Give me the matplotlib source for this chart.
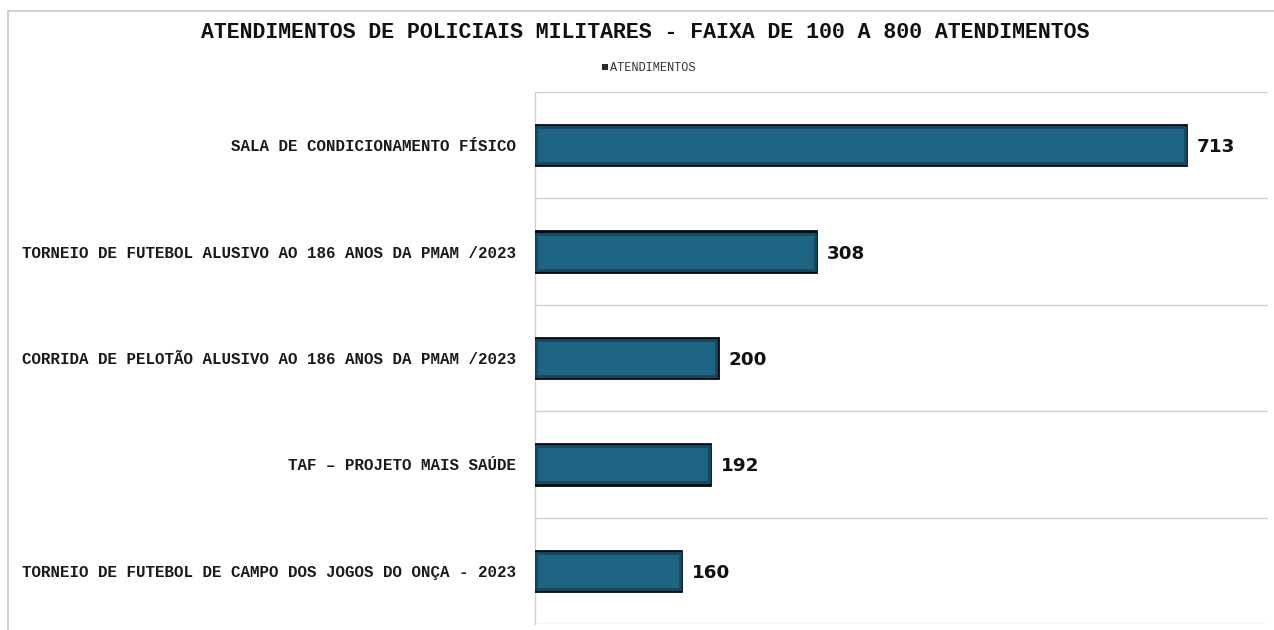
import matplotlib
matplotlib.use("Agg")
import matplotlib.pyplot as plt
from matplotlib.patches import Rectangle

categorias = [
    "SALA DE CONDICIONAMENTO FÍSICO",
    "TORNEIO DE FUTEBOL ALUSIVO AO 186 ANOS DA PMAM /2023",
    "CORRIDA DE PELOTÃO ALUSIVO AO 186 ANOS DA PMAM /2023",
    "TAF – PROJETO MAIS SAÚDE",
    "TORNEIO DE FUTEBOL DE CAMPO DOS JOGOS DO ONÇA - 2023",
]
atendimentos = [713, 308, 200, 192, 160]

cor_barra = "#1d6482"
mono = ["Liberation Mono", "DejaVu Sans Mono"]

fig = plt.figure(figsize=(12.74, 6.30), dpi=100)
ax = fig.add_axes([535 / 1274, 6 / 630, (1268 - 535) / 1274, (624 - 92) / 630])

y = list(range(len(categorias)))
ax.barh(y, atendimentos, height=0.38, color=cor_barra, edgecolor="#05080f",
        linewidth=2, zorder=3)
# sombra interna das barras
ax.barh(y, [v - 2.5 for v in atendimentos], left=1.25, height=0.34, color="none",
        edgecolor="#134a63", linewidth=2, zorder=4)

for yi, v in zip(y, atendimentos):
    ax.text(v + 12, yi, str(v), va="center_baseline", ha="left", fontsize=13.2,
            fontweight="bold", family="DejaVu Sans", color="#111111")

ax.set_xlim(0, 803)
ax.set_ylim(len(categorias) - 0.5, -0.5)
ax.set_yticks(y)
ax.set_yticklabels(categorias, family=mono, fontsize=11.45, fontweight="bold",
                   color="#1a1a1a")
ax.tick_params(axis="y", length=0, pad=14)
ax.set_xticks([])

# linhas entre categorias
for b in [i - 0.5 for i in range(len(categorias) + 1)]:
    ax.axhline(b, color="#d0d0d0", linewidth=1, zorder=1)

for s in ["top", "right", "bottom"]:
    ax.spines[s].set_visible(False)
ax.spines["left"].set_color("#d0d0d0")
ax.spines["left"].set_linewidth(1)

fig.text(645 / 1274, 1 - 33 / 630,
         "ATENDIMENTOS DE POLICIAIS MILITARES - FAIXA DE 100 A 800 ATENDIMENTOS",
         ha="center", va="center", family=mono, fontsize=15.5, fontweight="bold",
         color="#111111")

marcador = Rectangle((0, 0), 1, 1, facecolor="#2a2a2a", edgecolor="none")
fig.legend([marcador], ["ATENDIMENTOS"], loc="center",
           bbox_to_anchor=(649 / 1274, 1 - 68 / 630), frameon=False,
           prop={"family": mono, "size": 8.6}, labelcolor="#333333",
           handlelength=0.45, handleheight=0.45, handletextpad=0.2)

fig.add_artist(Rectangle((8 / 1274, -0.05), 1.0, 1 - 11 / 630 + 0.05,
                         transform=fig.transFigure, fill=False,
                         edgecolor="#c8c8c8", linewidth=1.2))

fig.savefig("out.png", dpi=100)
